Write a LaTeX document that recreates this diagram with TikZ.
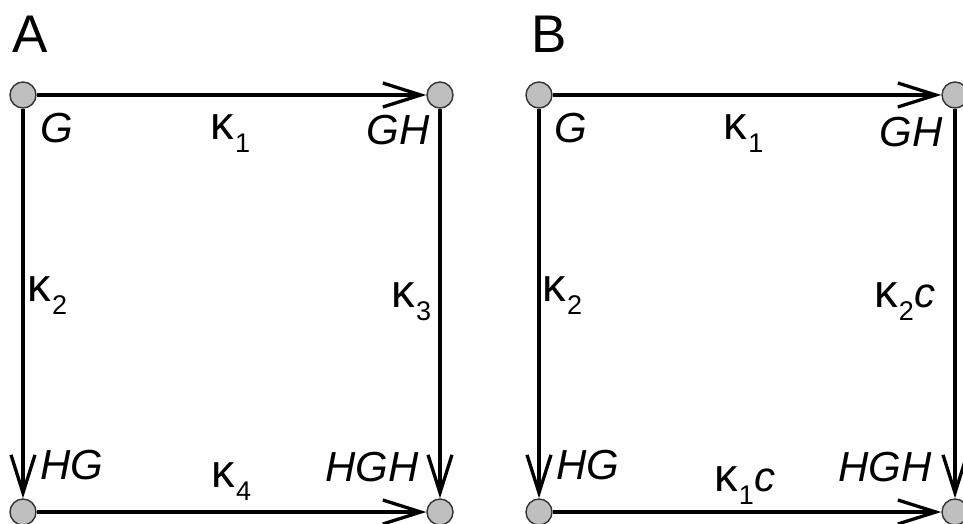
\documentclass[tikz,border=0pt]{standalone}
\usepackage{fontspec}
\setmainfont{Liberation Sans}
\usetikzlibrary{arrows.meta}
\newcommand{\kp}[2]{κ\kern1pt\raisebox{-13pt}{\fontsize{27pt}{27pt}\selectfont #1}\kern1pt{\fontsize{42pt}{42pt}\selectfont\itshape #2}}
\tikzset{
  vtx/.style={circle, draw=black!80, fill=black!25, line width=1.4pt, minimum size=26pt, inner sep=0pt},
  conn/.style={line width=3.3pt, -{Straight Barb[length=38pt,width=24pt]}},
  lab/.style={font=\fontsize{42pt}{42pt}\selectfont\itshape, inner sep=0pt},
  klab/.style={font=\fontsize{47pt}{47pt}\selectfont, inner sep=0pt},
  panel/.style={font=\fontsize{53pt}{53pt}\selectfont, inner sep=0pt}
}
\begin{document}
\begin{tikzpicture}[x=1pt,y=-1pt]
\useasboundingbox (0,0) rectangle (963,523);
% Panel A
\node[panel] (pa) at (30,34) {A};
\node[vtx] (a1) at (23,95) {};
\node[vtx] (a2) at (440,95) {};
\node[vtx] (a3) at (23,512) {};
\node[vtx] (a4) at (440,512) {};
\draw[conn] (a1) -- (a2);
\draw[conn] (a1) -- (a3);
\draw[conn] (a2) -- (a4);
\draw[conn] (a3) -- (a4);
\node[lab] (ga) at (57,128) {G};
\node[lab] (gha) at (398,130) {GH};
\node[lab] (hga) at (72,465) {HG};
\node[lab] (hgha) at (372,467) {HGH};
\node[klab] (k1a) at (231,134) {\kp{1}{}};
\node[klab] (k2a) at (48,296) {\kp{2}{}};
\node[klab] (k3a) at (412,302) {\kp{3}{}};
\node[klab] (k4a) at (232,482) {\kp{4}{}};
% Panel B
\node[panel] (pb) at (549,34) {B};
\node[vtx] (b1) at (539,95) {};
\node[vtx] (b2) at (955,95) {};
\node[vtx] (b3) at (539,512) {};
\node[vtx] (b4) at (955,512) {};
\draw[conn] (b1) -- (b2);
\draw[conn] (b1) -- (b3);
\draw[conn] (b2) -- (b4);
\draw[conn] (b3) -- (b4);
\node[lab] (gb) at (571,128) {G};
\node[lab] (ghb) at (911,132) {GH};
\node[lab] (hgb) at (588,465) {HG};
\node[lab] (hghb) at (885,467) {HGH};
\node[klab] (k1b) at (744,134) {\kp{1}{}};
\node[klab] (k2b) at (563,296) {\kp{2}{}};
\node[klab] (k2cb) at (905,302) {\kp{2}{c}};
\node[klab] (k1cb) at (745,486) {\kp{1}{c}};
\end{tikzpicture}
\end{document}
